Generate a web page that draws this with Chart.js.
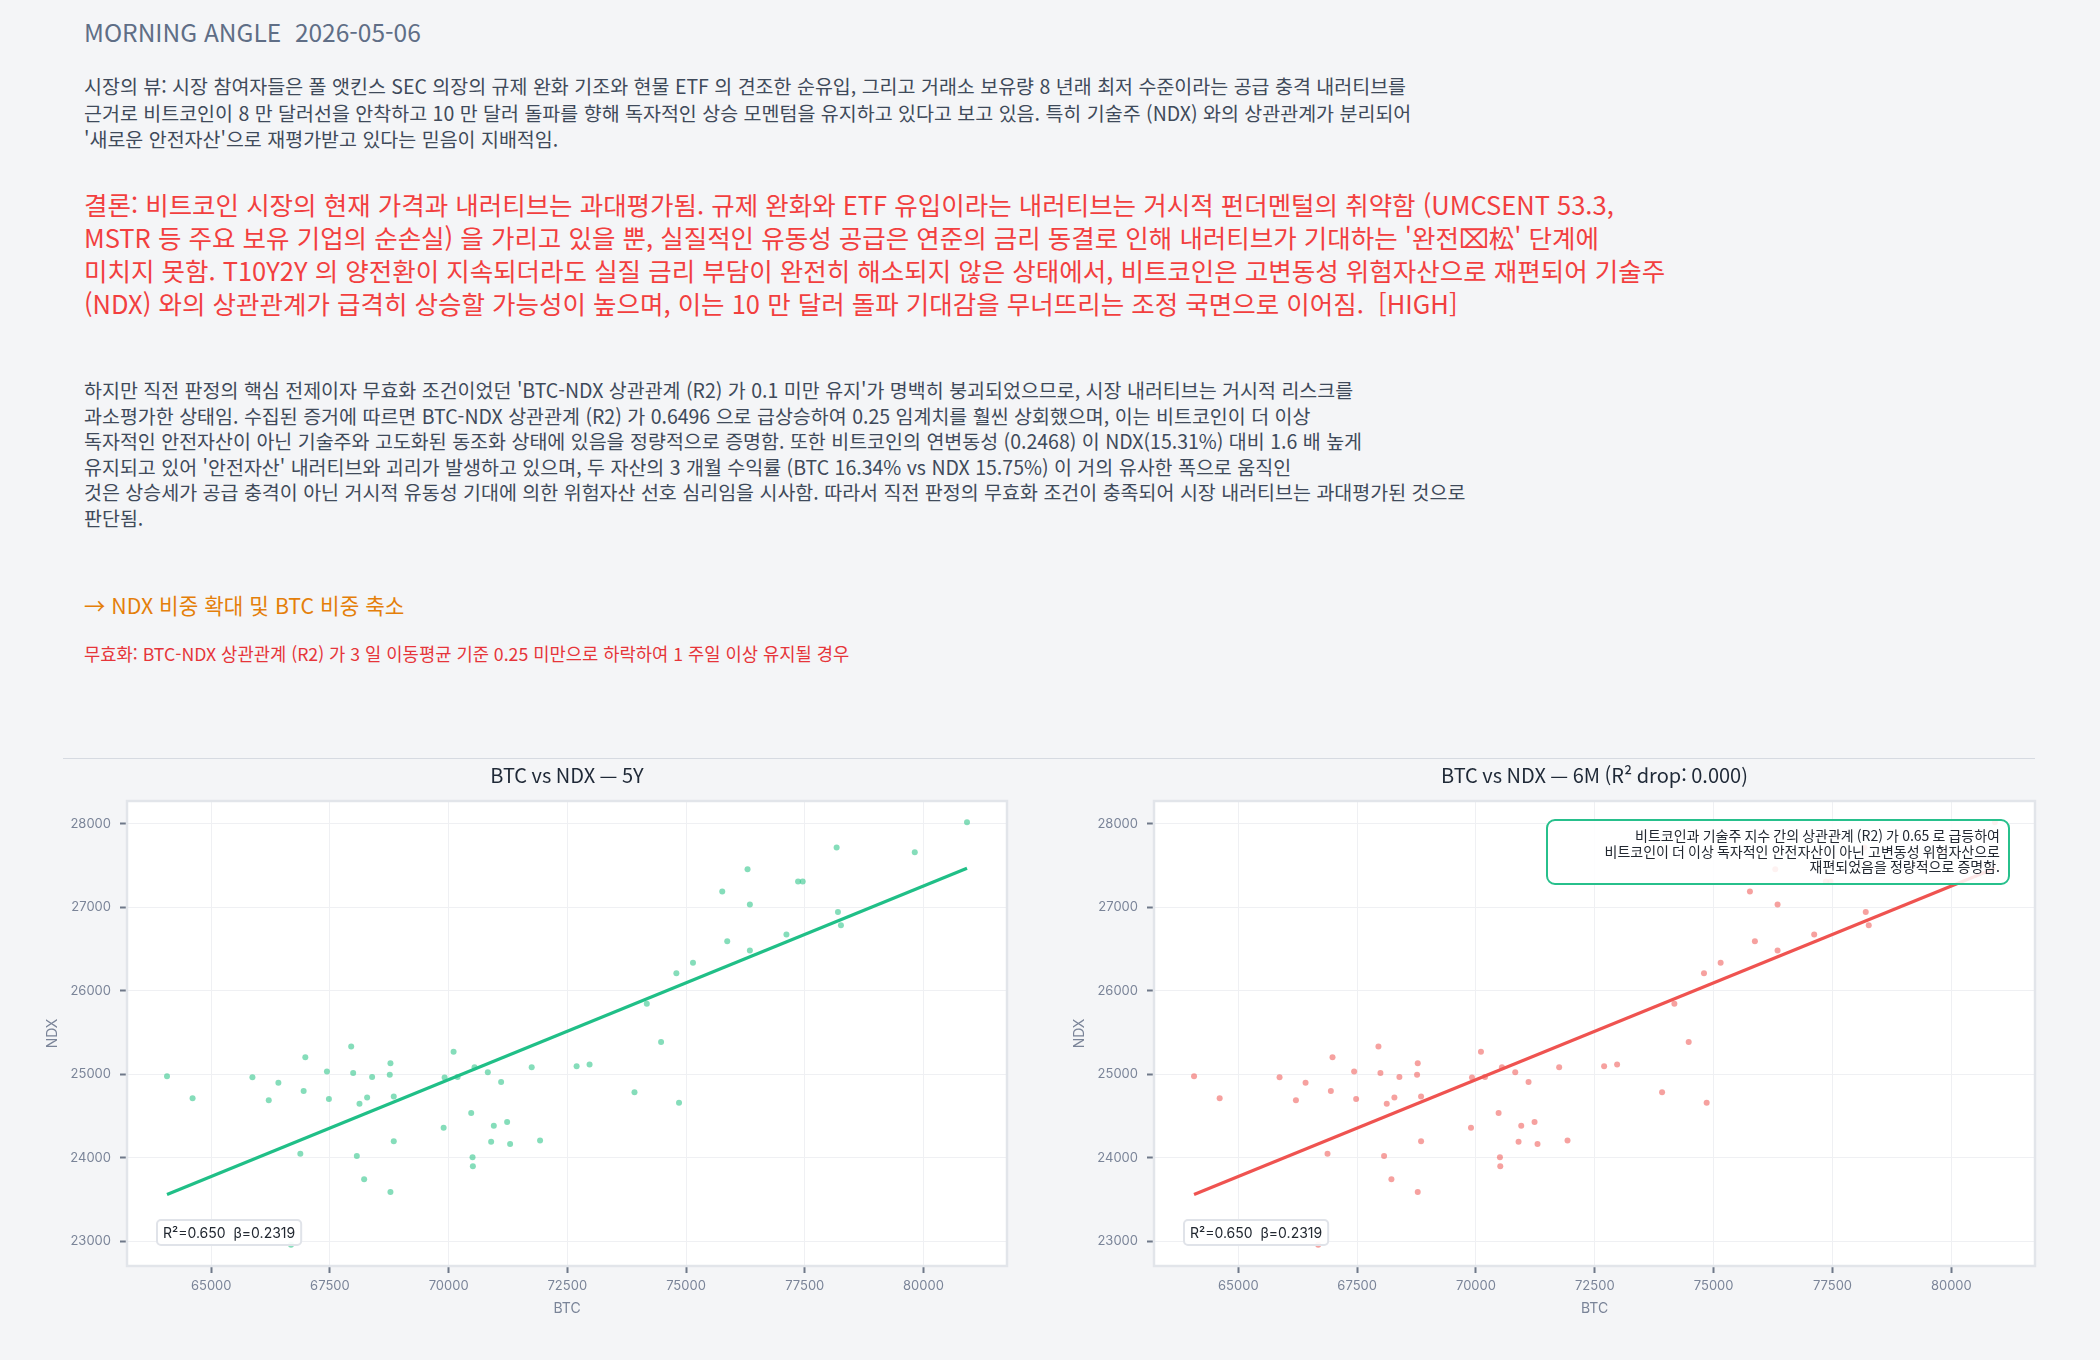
<!DOCTYPE html>
<html lang="ko">
<head>
  <meta charset="UTF-8">
  <title>Morning Angle</title>
  <script src="https://cdn.jsdelivr.net/npm/chart.js"></script>
  <style>
    html, body { margin: 0; padding: 0; }
    body {
      width: 2100px;
      height: 1360px;
      background: #f4f5f7;
      position: relative;
      overflow: hidden;
      font-family: "Noto Sans CJK KR", "Noto Sans", sans-serif;
    }
    .txt { position: absolute; left: 84px; white-space: nowrap; }
    .head { top: 17px; font-size: 24.5px; line-height: 30px; color: #5f6e86; white-space: pre; }
    .view { top: 73px; font-size: 19.5px; line-height: 26.5px; color: #3f4a5a; }
    .verdict { top: 187px; font-size: 25.5px; line-height: 33px; color: #f23f3f; }
    .reason { top: 377px; font-size: 19.5px; line-height: 25.6px; color: #3f4a5a; }
    .action { top: 590px; font-size: 21.3px; line-height: 30px; color: #e47f0a; }
    .invalid { top: 641px; font-size: 17.7px; line-height: 24px; color: #e6353a; }
    .sep { position: absolute; left: 63px; top: 758px; width: 1972px; height: 0; border-top: 1.5px solid #d6dae1; }
    .chart-box { position: absolute; top: 762px; height: 560px; }
    #leftBox { left: 40px; width: 971px; }
    #rightBox { left: 1067px; width: 972px; }
  </style>
</head>
<body>
  <div class="txt head">MORNING ANGLE  2026-05-06</div>

  <div class="txt view">
    시장의 뷰: 시장 참여자들은 폴 앳킨스 SEC 의장의 규제 완화 기조와 현물 ETF 의 견조한 순유입, 그리고 거래소 보유량 8 년래 최저 수준이라는 공급 충격 내러티브를<br>
    근거로 비트코인이 8 만 달러선을 안착하고 10 만 달러 돌파를 향해 독자적인 상승 모멘텀을 유지하고 있다고 보고 있음. 특히 기술주 (NDX) 와의 상관관계가 분리되어<br>
    '새로운 안전자산'으로 재평가받고 있다는 믿음이 지배적임.
  </div>

  <div class="txt verdict">
    결론: 비트코인 시장의 현재 가격과 내러티브는 과대평가됨. 규제 완화와 ETF 유입이라는 내러티브는 거시적 펀더멘털의 취약함 (UMCSENT 53.3,<br>
    MSTR 등 주요 보유 기업의 순손실) 을 가리고 있을 뿐, 실질적인 유동성 공급은 연준의 금리 동결로 인해 내러티브가 기대하는 '완전⌧松' 단계에<br>
    미치지 못함. T10Y2Y 의 양전환이 지속되더라도 실질 금리 부담이 완전히 해소되지 않은 상태에서, 비트코인은 고변동성 위험자산으로 재편되어 기술주<br>
    (NDX) 와의 상관관계가 급격히 상승할 가능성이 높으며, 이는 10 만 달러 돌파 기대감을 무너뜨리는 조정 국면으로 이어짐. &nbsp;[HIGH]
  </div>

  <div class="txt reason">
    하지만 직전 판정의 핵심 전제이자 무효화 조건이었던 'BTC-NDX 상관관계 (R2) 가 0.1 미만 유지'가 명백히 붕괴되었으므로, 시장 내러티브는 거시적 리스크를<br>
    과소평가한 상태임. 수집된 증거에 따르면 BTC-NDX 상관관계 (R2) 가 0.6496 으로 급상승하여 0.25 임계치를 훨씬 상회했으며, 이는 비트코인이 더 이상<br>
    독자적인 안전자산이 아닌 기술주와 고도화된 동조화 상태에 있음을 정량적으로 증명함. 또한 비트코인의 연변동성 (0.2468) 이 NDX(15.31%) 대비 1.6 배 높게<br>
    유지되고 있어 '안전자산' 내러티브와 괴리가 발생하고 있으며, 두 자산의 3 개월 수익률 (BTC 16.34% vs NDX 15.75%) 이 거의 유사한 폭으로 움직인<br>
    것은 상승세가 공급 충격이 아닌 거시적 유동성 기대에 의한 위험자산 선호 심리임을 시사함. 따라서 직전 판정의 무효화 조건이 충족되어 시장 내러티브는 과대평가된 것으로<br>
    판단됨.
  </div>

  <div class="txt action">→ NDX 비중 확대 및 BTC 비중 축소</div>
  <div class="txt invalid">무효화: BTC-NDX 상관관계 (R2) 가 3 일 이동평균 기준 0.25 미만으로 하락하여 1 주일 이상 유지될 경우</div>

  <div class="sep"></div>

  <div class="chart-box" id="leftBox"><canvas id="chart5y"></canvas></div>
  <div class="chart-box" id="rightBox"><canvas id="chart6m"></canvas></div>

  <script>
    // daily BTC / NDX closes
    const btc = [
      64069, 64608, 65868, 66212, 66415, 66681, 66877, 66947, 66982, 67437,
      67479, 67948, 67990, 68067, 68123, 68221, 68284, 68389, 68761, 68775,
      68775, 68845, 68845, 69895, 69916, 70105, 70189, 70476, 70504, 70511,
      70546, 70826, 70896, 70952, 71106, 71232, 71295, 71750, 71926, 72696,
      72969, 73915, 74174, 74475, 74797, 74853, 75147, 75763, 75868, 76296,
      76345, 76345, 77115, 77360, 77458, 78172, 78200, 78263, 79818, 80918
    ];
    const ndx = [
      24978, 24712, 24965, 24690, 24900, 22958, 24049, 24799, 25205, 25035,
      24703, 25332, 25017, 24023, 24647, 23743, 24721, 24969, 24996, 25131,
      23591, 24734, 24197, 24359, 24961, 25271, 24969, 24538, 24006, 23900,
      25083, 25026, 24193, 24385, 24908, 24428, 24167, 25083, 24206, 25096,
      25118, 24786, 25846, 25388, 26209, 24660, 26335, 27190, 26592, 27456,
      27033, 26483, 26675, 27308, 27308, 27714, 26942, 26784, 27657, 28019
    ];

    // fitted line end points
    const trendBtc = [64069, 80918];
    const trendNdx = [23561, 27466];

    const xTicks = [65000, 67500, 70000, 72500, 75000, 77500, 80000];
    const yTicks = [23000, 24000, 25000, 26000, 27000, 28000];

    const fitLabel = "R²=0.650  β=0.2319";
    const title5y = "BTC vs NDX — 5Y";
    const title6m = "BTC vs NDX — 6M (R² drop: 0.000)";
    const noteLines = [
      "비트코인과 기술주 지수 간의 상관관계 (R2) 가 0.65 로 급등하여",
      "비트코인이 더 이상 독자적인 안전자산이 아닌 고변동성 위험자산으로",
      "재편되었음을 정량적으로 증명함."
    ];

    const KR = '"Noto Sans CJK KR", "Noto Sans", sans-serif';
    const TICK = "#7a8498";

    function span(arr) {
      const lo = Math.min(...arr), hi = Math.max(...arr);
      const pad = (hi - lo) * 0.05;
      return { min: lo - pad, max: hi + pad };
    }
    const xr = span(btc);
    const yr = span(ndx);

    function roundRect(ctx, x, y, w, h, r) {
      ctx.beginPath();
      ctx.moveTo(x + r, y);
      ctx.arcTo(x + w, y, x + w, y + h, r);
      ctx.arcTo(x + w, y + h, x, y + h, r);
      ctx.arcTo(x, y + h, x, y, r);
      ctx.arcTo(x, y, x + w, y, r);
      ctx.closePath();
    }

    const plotFrame = {
      id: "plotFrame",
      beforeDraw(chart) {
        const { ctx, chartArea: a } = chart;
        ctx.save();
        ctx.fillStyle = "#ffffff";
        ctx.fillRect(a.left, a.top, a.right - a.left, a.bottom - a.top);
        ctx.restore();
      },
      beforeDatasetsDraw(chart) {
        const { ctx, chartArea: a } = chart;
        ctx.save();
        ctx.strokeStyle = "#e2e5ea";
        ctx.lineWidth = 2.5;
        ctx.strokeRect(a.left, a.top, a.right - a.left, a.bottom - a.top);
        ctx.restore();
      },
      afterDraw(chart, args, opts) {
        const { ctx, chartArea: a } = chart;
        ctx.save();
        // title centred over the plot
        ctx.fillStyle = "#1f2937";
        ctx.font = "20px " + KR;
        ctx.textAlign = "center";
        ctx.textBaseline = "middle";
        ctx.fillText(opts.title, (a.left + a.right) / 2, 13);

        // fit label, bottom-left
        ctx.font = "14px Inter";
        const tw = ctx.measureText(fitLabel).width;
        const bx = a.left + 30, bw = tw + 12, bh = 25, by = a.bottom - 21 - bh;
        roundRect(ctx, bx, by, bw, bh, 4);
        ctx.fillStyle = "rgba(255,255,255,0.92)";
        ctx.fill();
        ctx.strokeStyle = "#e0e3e9";
        ctx.lineWidth = 2;
        ctx.stroke();
        ctx.fillStyle = "#222831";
        ctx.textAlign = "left";
        ctx.fillText(fitLabel, bx + 6, by + bh / 2 + 1);

        if (opts.note) {
          const nw = 462, nh = 64;
          const nx = a.right - 26 - nw, ny = a.top + 19;
          roundRect(ctx, nx, ny, nw, nh, 8);
          ctx.fillStyle = "rgba(255,255,255,0.86)";
          ctx.fill();
          ctx.strokeStyle = "#27c08c";
          ctx.lineWidth = 2;
          ctx.stroke();
          ctx.fillStyle = "#222831";
          ctx.font = "14px " + KR;
          ctx.textAlign = "right";
          opts.note.forEach((t, i) => ctx.fillText(t, nx + nw - 9, ny + 16 + i * 15.5));
        }
        ctx.restore();
      }
    };

    function axis(label, range, tickValues, isX) {
      return {
        type: "linear",
        min: range.min,
        max: range.max,
        title: {
          display: true,
          text: label,
          color: TICK,
          font: { family: "Inter", size: 14 },
          padding: isX ? { top: 2, bottom: 5 } : { top: 4, bottom: 4 }
        },
        ticks: {
          autoSkip: false,
          maxRotation: 0,
          color: TICK,
          padding: isX ? 5 : 9,
          font: { family: "Inter", size: 13 },
          callback: v => String(v)
        },
        grid: {
          color: "#eff0f3",
          lineWidth: 1,
          tickColor: "#6f7889",
          tickWidth: 2,
          tickLength: 7
        },
        border: { display: false },
        afterBuildTicks: s => { s.ticks = tickValues.map(v => ({ value: v })); },
        afterFit: s => { if (isX) s.height = 56; else s.width = 87; }
      };
    }

    function makeChart(id, title, lineColor, dotColor, note) {
      const pts = btc.map((b, i) => ({ x: b, y: ndx[i] }));
      const fit = trendBtc.map((b, i) => ({ x: b, y: trendNdx[i] }));
      return new Chart(document.getElementById(id), {
        type: "scatter",
        data: {
          datasets: [
            {
              type: "line",
              data: fit,
              borderColor: lineColor,
              borderWidth: 3.2,
              pointRadius: 0,
              fill: false
            },
            {
              data: pts,
              backgroundColor: dotColor,
              borderWidth: 0,
              pointRadius: 3
            }
          ]
        },
        options: {
          responsive: true,
          maintainAspectRatio: false,
          animation: false,
          layout: { padding: { top: 39, right: 0, bottom: 0, left: 0 } },
          plugins: {
            legend: { display: false },
            tooltip: { enabled: false },
            plotFrame: { title: title, note: note }
          },
          scales: {
            x: axis("BTC", xr, xTicks, true),
            y: axis("NDX", yr, yTicks, false)
          }
        },
        plugins: [plotFrame]
      });
    }

    makeChart("chart5y", title5y, "#20bf87", "rgba(52,199,140,0.6)", null);
    makeChart("chart6m", title6m, "#ef5350", "rgba(239,83,80,0.55)", noteLines);
  </script>
</body>
</html>
